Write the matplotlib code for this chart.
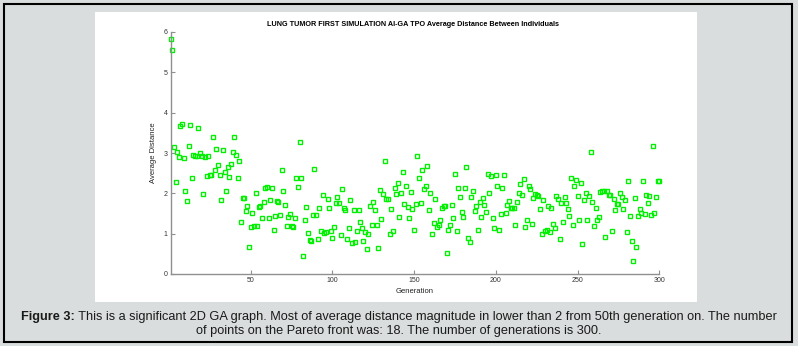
import numpy as np
import matplotlib
matplotlib.use("Agg")
import matplotlib.pyplot as plt
from matplotlib.patches import Rectangle

# average distance per generation
dist_1_86 = [5.83, 5.55, 3.15, 2.29, 3.02, 2.91, 3.68, 3.73, 2.88, 2.06,
             1.82, 3.17, 3.70, 2.37, 2.96, 2.93, 2.92, 3.63, 2.99, 2.92,
             1.98, 2.89, 2.44, 2.93, 2.46, 2.46, 3.39, 2.59, 3.10, 2.70,
             2.45, 1.84, 3.07, 2.53, 2.05, 2.65, 2.40, 2.72, 3.03, 3.39,
             2.96, 2.37, 2.80, 1.29, 1.89, 1.89, 1.57, 1.69, 0.66, 1.16,
             1.52, 1.18, 2.00, 1.20, 1.65, 1.68, 1.38, 1.79, 2.14, 2.15,
             1.39, 1.84, 2.12, 1.08, 1.43, 1.80, 1.78, 1.47, 2.59, 2.05,
             1.72, 1.19, 1.41, 1.49, 1.19, 1.17, 1.40, 2.38, 2.15, 3.27,
             2.39, 0.44, 1.35, 1.65, 1.02, 0.84]
dist_87_129 = [0.83, 1.47, 2.60, 1.47, 0.88, 1.63, 1.07, 1.96, 1.01, 1.04,
               1.87, 1.64, 1.07, 0.89, 1.16, 1.77, 1.90, 1.77, 0.97, 2.10,
               1.64, 1.58, 0.88, 1.13, 1.83, 0.76, 1.58, 0.80, 1.07, 1.58,
               1.30, 1.13, 0.83, 1.05, 0.62, 1.00, 1.69, 1.21, 1.79, 1.58,
               1.22, 0.65, 2.08]
dist_130_208 = [1.36, 1.98, 2.79, 1.85, 1.85, 0.99, 1.62, 1.07, 2.12, 1.98,
                2.26, 1.41, 2.01, 2.53, 1.74, 2.17, 1.66, 1.38, 2.04, 1.62,
                1.10, 1.74, 2.92, 2.38, 1.77, 2.57, 2.11, 2.19, 2.67, 1.58,
                2.02, 1.00, 1.27, 1.85, 1.17, 1.21, 1.33, 1.64, 1.69, 1.69,
                0.52, 1.08, 1.22, 1.70, 1.40, 2.47, 1.07, 2.12, 1.92, 1.53,
                1.41, 2.12, 2.66, 0.89, 0.80, 1.90, 2.07, 1.55, 1.69, 1.08,
                1.78, 1.42, 1.88, 1.72, 1.54, 2.48, 2.00, 2.42, 1.39, 1.14,
                2.46, 2.19, 1.08, 1.49, 2.12, 2.46, 1.52, 1.70, 1.80]
dist_209_282 = [1.63, 1.63, 1.63, 1.21, 1.78, 2.02, 2.24, 1.96, 2.36, 1.17,
                1.35, 2.18, 2.11, 1.24, 1.88, 1.98, 1.97, 1.94, 1.61, 0.99,
                1.84, 1.06, 1.08, 1.68, 1.05, 1.63, 1.23, 1.13, 1.93, 1.86,
                0.87, 1.77, 1.28, 1.91, 1.77, 1.60, 1.43, 2.37, 1.22, 2.17,
                2.32, 1.94, 1.35, 2.26, 0.74, 1.84, 2.02, 1.35, 1.93, 3.02,
                1.78, 1.20, 1.63, 1.34, 1.42, 2.03, 2.06, 2.07, 0.91, 2.05,
                1.95, 1.95, 1.06, 1.85, 1.59, 1.73, 1.73, 2.01, 1.91, 1.60,
                1.83, 1.05, 2.31, 1.45]
dist_283_300 = [0.81, 0.33, 1.89, 0.67, 1.44, 1.61, 1.51, 2.30, 1.49, 1.95,
                1.77, 1.93, 1.46, 3.17, 1.51, 1.90, 2.31, 2.30]

avg_dist = dist_1_86 + dist_87_129 + dist_130_208 + dist_209_282 + dist_283_300
generations = np.arange(1, len(avg_dist) + 1)

x_ticks = [50, 100, 150, 200, 250, 300]
y_ticks = [0, 1, 2, 3, 4, 5, 6]

title = "LUNG TUMOR FIRST SIMULATION AI-GA TPO Average Distance Between Individuals"
cap_bold = "Figure 3:"
cap_line1 = (" This is a significant 2D GA graph. Most of average distance magnitude in lower "
             "than 2 from 50th generation on. The number")
cap_line2 = "of points on the Pareto front was: 18. The number of generations is 300."

plt.rcParams["font.family"] = ["Liberation Sans", "DejaVu Sans"]

W, H = 798, 346
fig = plt.figure(figsize=(W / 100, H / 100), dpi=100)
fig.patch.set_facecolor("#d9dddd")

def fx(px):
    return px / W

def fy(py):
    return 1 - py / H

# outer frame and white panel (behind the axes)
fig.patches.append(Rectangle((fx(4), fy(342)), fx(788), 338 / H, transform=fig.transFigure,
                             facecolor="none", edgecolor="black", linewidth=1.5, zorder=-10))
fig.patches.append(Rectangle((fx(95), fy(302)), fx(602), 290 / H, transform=fig.transFigure,
                             facecolor="white", edgecolor="none", zorder=-10))

ax = fig.add_axes([fx(170.6), fy(274), fx(659.3 - 170.6), (274 - 32) / H])
ax.set_zorder(5)
ax.set_facecolor("white")
ax.plot(generations, avg_dist, linestyle="none", marker="s", markersize=3.5,
        markerfacecolor="none", markeredgecolor="#00f000", markeredgewidth=1.0,
        clip_on=False)

ax.set_xlim(1, 300)
ax.set_ylim(0, 6)
ax.set_xticks(x_ticks)
ax.set_yticks(y_ticks)
for s in ["top", "right"]:
    ax.spines[s].set_visible(False)
for s in ["left", "bottom"]:
    ax.spines[s].set_color("#909090")
    ax.spines[s].set_linewidth(1.0)
ax.tick_params(direction="in", length=3, width=0.8, color="#909090",
               labelsize=5, labelcolor="#333333", pad=2)

ax.set_xlabel("Generation", fontsize=5.5, labelpad=3, color="#222222")
ax.set_ylabel("Average Distance", fontsize=5.5, labelpad=5, color="#222222")

fig.text(fx(413), fy(24), title, ha="center", va="center", fontsize=5.2,
         fontweight="bold")

capfont = dict(fontsize=9.2, color="#1a1a1a")
t1 = fig.text(fx(21), fy(317), cap_bold, ha="left", va="center", fontweight="bold", **capfont)
ax.annotate(cap_line1, xy=(1, 0.5), xycoords=t1, ha="left", va="center",
            annotation_clip=False, **capfont)
fig.text(0.5, fy(331), cap_line2, ha="center", va="center", **capfont)

fig.savefig("out.png", dpi=100, facecolor=fig.get_facecolor())
